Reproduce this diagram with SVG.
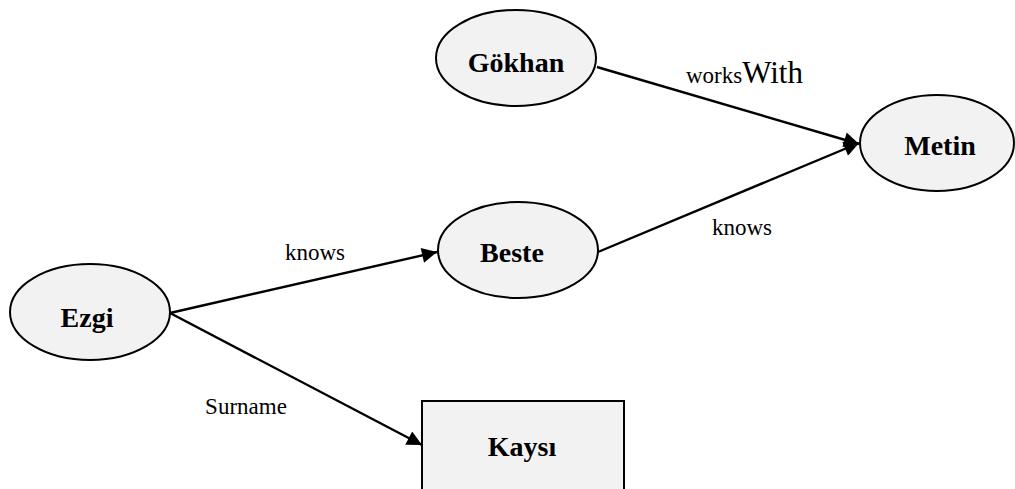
<svg xmlns="http://www.w3.org/2000/svg" width="1015" height="489" viewBox="0 0 1015 489">
  <style>
    .node { fill: #f2f2f2; stroke: #000; stroke-width: 2; }
    .name { font-family: "Liberation Serif", "Times New Roman", serif; font-weight: bold; font-size: 28px; fill: #000; text-anchor: middle; }
    .edge { stroke: #000; stroke-width: 2.4; fill: none; marker-end: url(#arrow); }
    .label { font-family: "Liberation Serif", "Times New Roman", serif; font-size: 23px; fill: #000; }
  </style>
  <defs>
    <marker id="arrow" viewBox="0 0 10 10" refX="10" refY="5" markerUnits="userSpaceOnUse" markerWidth="18" markerHeight="15" orient="auto">
      <path d="M0,0 L10,5 L0,10 z" fill="#000"/>
    </marker>
  </defs>

  <g id="connectors">
    <line class="edge" x1="597" y1="67" x2="859" y2="144"/>
    <line class="edge" x1="598" y1="252" x2="859" y2="143"/>
    <line class="edge" x1="170" y1="313" x2="437" y2="252"/>
    <line class="edge" x1="170" y1="313" x2="422" y2="445"/>
    <text class="label" x="686" y="83">works<tspan font-size="31">With</tspan></text>
    <text class="label" x="742" y="235" text-anchor="middle">knows</text>
    <text class="label" x="315" y="260" text-anchor="middle">knows</text>
    <text class="label" x="246" y="414" text-anchor="middle">Surname</text>
  </g>

  <g id="gokhan">
    <ellipse class="node" cx="516" cy="58" rx="80" ry="48"/>
    <text class="name" x="516" y="72">Gökhan</text>
  </g>
  <g id="metin">
    <ellipse class="node" cx="937" cy="143" rx="77" ry="48"/>
    <text class="name" x="940" y="155">Metin</text>
  </g>
  <g id="beste">
    <ellipse class="node" cx="518" cy="250" rx="80" ry="48"/>
    <text class="name" x="512" y="262">Beste</text>
  </g>
  <g id="ezgi">
    <ellipse class="node" cx="90" cy="312" rx="80" ry="48"/>
    <text class="name" x="87" y="327">Ezgi</text>
  </g>
  <g id="kaysi">
    <rect class="node" x="422" y="401" width="202" height="100"/>
    <text class="name" x="522" y="456">Kaysı</text>
  </g>
</svg>
